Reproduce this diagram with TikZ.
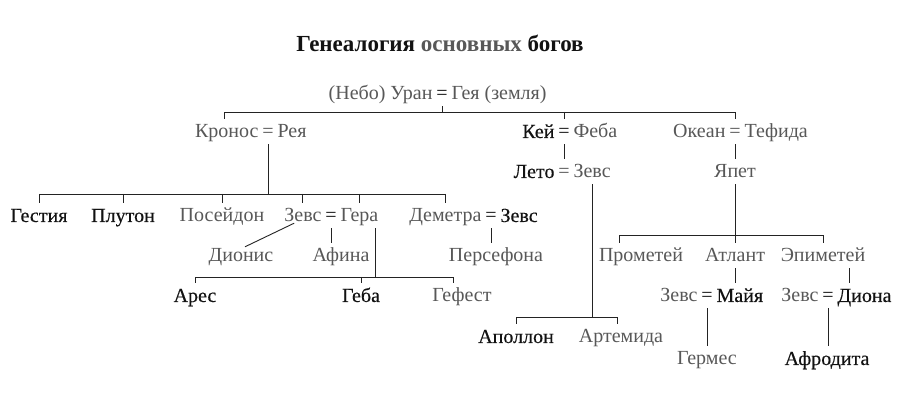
\documentclass[tikz,border=0pt]{standalone}
\usepackage{fontspec}
\setmainfont{Liberation Serif}
\newfontfamily\blkfont[FakeBold=0.35]{Liberation Serif}
\definecolor{ink}{RGB}{18,18,18}
\definecolor{greytxt}{RGB}{88,88,88}
\definecolor{linec}{RGB}{35,35,35}
\newcommand{\namesize}{\fontsize{20}{24}\selectfont}
\tikzset{
  nm/.style={inner xsep=0pt, inner ysep=5pt, text height=14pt, text depth=1pt, anchor=base, font=\namesize},
  gname/.style={nm, text=greytxt},
  bname/.style={nm, text=ink, font=\namesize\blkfont},
  eqdark/.style={nm, inner xsep=3.5pt, text=ink},
  eqgrey/.style={nm, inner xsep=3.5pt, text=greytxt},
  lft/.style={anchor=base east},
  rgt/.style={anchor=base west},
  conn/.style={draw=linec, line width=0.9pt},
}
\begin{document}
\begin{tikzpicture}[x=1pt,y=-1pt]
\useasboundingbox (0,0) rectangle (900,411);
\fill[white] (0,0) rectangle (900,411);

% title
\node[anchor=base, font=\fontsize{23}{27}\selectfont\bfseries] (title) at (440,52)
  {\textcolor{ink}{Генеалогия} \textcolor{greytxt}{основных} \textcolor{ink}{богов}};

% generation 0
\node[eqdark] (uranEq) at (442,100) {=};
\node[gname, lft] (uran) at (uranEq.base west) {(Небо) Уран};
\node[gname, rgt] (geya) at (uranEq.base east) {Гея (земля)};

% generation 1
\node[eqgrey] (kronosEq) at (268,138) {=};
\node[gname, lft] (kronos) at (kronosEq.base west) {Кронос};
\node[gname, rgt] (reya) at (kronosEq.base east) {Рея};

\node[eqdark] (keiEq) at (564,138) {=};
\node[bname, lft] (kei) at (keiEq.base west) {Кей};
\node[gname, rgt] (feba) at (keiEq.base east) {Феба};

\node[eqgrey] (okeanEq) at (735,138) {=};
\node[gname, lft] (okean) at (okeanEq.base west) {Океан};
\node[gname, rgt] (tefida) at (okeanEq.base east) {Тефида};

\node[eqgrey] (letoEq) at (564,178) {=};
\node[bname, lft] (leto) at (letoEq.base west) {Лето};
\node[gname, rgt] (zeusL) at (letoEq.base east) {Зевс};

\node[gname] (japet) at (735,178) {Япет};

% generation 2
\node[bname] (gestia) at (39,222) {Гестия};
\node[bname] (pluton) at (123,222) {Плутон};
\node[gname] (posejdon) at (222,222) {Посейдон};
\node[eqdark] (zgEq) at (331,222) {=};
\node[gname, lft] (zeusG) at (zgEq.base west) {Зевс};
\node[gname, rgt] (gera) at (zgEq.base east) {Гера};
\node[eqdark] (demEq) at (491,222) {=};
\node[gname, lft] (demetra) at (demEq.base west) {Деметра};
\node[bname, rgt] (zeusD) at (demEq.base east) {Зевс};

% generation 3
\node[gname] (dionis) at (241,262) {Дионис};
\node[gname] (afina) at (341,262) {Афина};
\node[gname] (persefona) at (496,262) {Персефона};
\node[gname] (prometej) at (641,262) {Прометей};
\node[gname] (atlant) at (735,262) {Атлант};
\node[gname] (epimetej) at (823,262) {Эпиметей};

% generation 4
\node[bname] (ares) at (195,302) {Арес};
\node[bname] (geba) at (361,302) {Геба};
\node[gname] (gefest) at (462,302) {Гефест};
\node[eqdark] (mayaEq) at (707,302) {=};
\node[gname, lft] (zeusM) at (mayaEq.base west) {Зевс};
\node[bname, rgt] (maya) at (mayaEq.base east) {Майя};
\node[eqdark] (dionaEq) at (828,302) {=};
\node[gname, lft] (zeusDi) at (dionaEq.base west) {Зевс};
\node[bname, rgt] (diona) at (dionaEq.base east) {Диона};

\node[bname] (apollon) at (516,343) {Аполлон};
\node[gname] (artemida) at (621,343) {Артемида};

\node[gname] (germes) at (707,365) {Гермес};
\node[bname] (afrodita) at (827,365) {Афродита};

% bar levels
\coordinate (b1) at (224,112);
\coordinate (b2) at (0,194);
\coordinate (b4) at (0,235);
\coordinate (b3) at (0,277);
\coordinate (b5) at (0,317);

% connectors
\draw[conn] (uranEq.south) -- (uranEq.south |- b1);
\draw[conn] (b1 |- kronos.north) -- (b1) -- (okeanEq.north |- b1) -- (okeanEq.north);
\draw[conn] (keiEq.north |- b1) -- (keiEq.north);
\draw[conn] (keiEq.south) -- (letoEq.north);
\draw[conn] (okeanEq.south) -- (japet.north);
\draw[conn] (japet.south) -- (atlant.north);

\draw[conn] (kronosEq.south) -- (kronosEq.south |- b2);
\draw[conn] (gestia.north |- b2) -- (demetra.north |- b2);
\foreach \n in {gestia,pluton,posejdon,zeusG,gera,demetra}
  \draw[conn] (\n.north |- b2) -- (\n.north);

\draw[conn] ([xshift=10pt,yshift=5pt]zeusG.south west) -- ([xshift=4pt,yshift=-4pt]dionis.north);
\draw[conn] (zgEq.south) -- (zgEq.south |- afina.north);
\draw[conn] ([xshift=16pt]gera.south) -- ([xshift=16pt]gera.south |- b3);
\draw[conn] (ares.north) -- (ares.north |- b3) -- ([xshift=-9pt]gefest.north |- b3) -- ([xshift=-9pt]gefest.north);
\draw[conn] (geba.north |- b3) -- (geba.north);
\draw[conn] (demEq.south) -- (demEq.south |- persefona.north);

\draw[conn] ([xshift=-22pt]prometej.north) -- ([xshift=-22pt]prometej.north |- b4) -- (epimetej.north |- b4) -- (epimetej.north);
\draw[conn] (atlant.south) -- (atlant.south |- maya.north);
\draw[conn] ([xshift=26pt]epimetej.south) -- ([xshift=26pt]epimetej.south |- diona.north);
\draw[conn] (mayaEq.south) -- (mayaEq.south |- germes.north);
\draw[conn] (dionaEq.south) -- (dionaEq.south |- afrodita.north);

\draw[conn] (zeusL.south) -- (zeusL.south |- b5);
\draw[conn] (apollon.north) -- (apollon.north |- b5) -- ([xshift=-4pt]artemida.north |- b5) -- ([xshift=-4pt]artemida.north);
\end{tikzpicture}
\end{document}
